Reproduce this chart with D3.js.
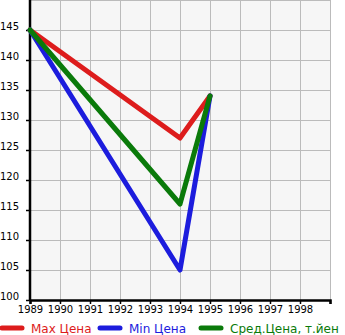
<!DOCTYPE html>
<html><head><meta charset="utf-8">
<script src="https://cdn.jsdelivr.net/npm/d3@7"></script>
<style>body{margin:0;background:#fff;}svg{display:block;font-family:"DejaVu Sans",sans-serif;}</style>
</head><body>
<script>
const years = [1989,1990,1991,1992,1993,1994,1995,1996,1997,1998];
const yTicks = [100,105,110,115,120,125,130,135,140,145];
const seriesNames = ["Max Цена","Min Цена","Сред.Цена, т.йен"];
const seriesColors = ["#dd1c1c","#1c1cdd","#0a7a0a"];
const dataYears = [1989,1994,1995];
const maxVals = [145,127,134];
const minVals = [145,105,134];
const avgVals = [145,116,134];

const W=345,H=335;
const svg=d3.select("body").append("svg").attr("width",W).attr("height",H);
const x=d3.scaleLinear().domain([1989,1999]).range([30,330]);
const y=d3.scaleLinear().domain([100,150]).range([300,0]);

svg.append("rect").attr("x",x(1989)).attr("y",y(150)).attr("width",x(1999)-x(1989)).attr("height",y(100)-y(150)).attr("fill","#f6f6f6");
const grid=svg.append("g").attr("stroke","#bbbbbb").attr("stroke-width",1);
d3.range(1990,2000).forEach(v=>grid.append("line").attr("x1",x(v)+0.5).attr("x2",x(v)+0.5).attr("y1",y(150)).attr("y2",y(100)));
d3.range(105,155,5).forEach(v=>grid.append("line").attr("x1",x(1989)).attr("x2",x(1999)).attr("y1",y(v)+0.5).attr("y2",y(v)+0.5));

// x axis
const xa=svg.append("g").attr("transform","translate(0,300)")
 .call(d3.axisBottom(x).tickValues(d3.range(1989,2000)).tickSize(4).tickFormat(d=>years.includes(d)?String(d):""));
xa.select(".domain").attr("stroke","#000").attr("stroke-width",2.5);
xa.selectAll(".tick line").attr("stroke","#000").attr("stroke-width",1.5);
xa.selectAll("text").attr("font-size",10).attr("font-family","DejaVu Sans").attr("fill","#000").attr("dy","0.55em");
// y axis
const ya=svg.append("g").attr("transform","translate(30,0)")
 .call(d3.axisLeft(y).tickValues(yTicks).tickSize(4).tickFormat(d=>String(d)));
ya.select(".domain").attr("stroke","#000").attr("stroke-width",2.5).attr("d","M0,0V300");
ya.selectAll(".tick line").attr("stroke","#000").attr("stroke-width",1.5);
ya.selectAll("text").attr("font-size",10).attr("font-family","DejaVu Sans").attr("fill","#000")
 .attr("text-anchor","start").attr("x",-30).attr("dy","-0.1em");

const line=d3.line().x(d=>x(d[0])).y(d=>y(d[1]));
[maxVals,minVals,avgVals].forEach((vals,i)=>{
  svg.append("path").datum(dataYears.map((yr,j)=>[yr,vals[j]])).attr("d",line)
   .attr("fill","none").attr("stroke",seriesColors[i]).attr("stroke-width",5)
   .attr("stroke-linejoin","round").attr("stroke-linecap","round");
});

// legend
const lx=[2,100,201];
seriesNames.forEach((n,i)=>{
  const g=svg.append("g");
  g.append("line").attr("x1",lx[i]).attr("x2",lx[i]+20).attr("y1",328).attr("y2",328)
   .attr("stroke",seriesColors[i]).attr("stroke-width",5).attr("stroke-linecap","round");
  g.append("text").attr("x",lx[i]+29).attr("y",333).attr("font-size",12).attr("fill",seriesColors[i]).text(n);
});
</script>
</body></html>
